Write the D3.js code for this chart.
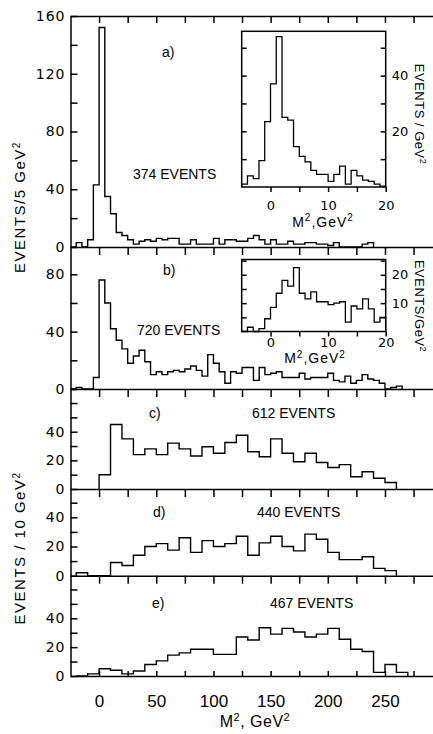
<!DOCTYPE html>
<html>
<head>
<meta charset="utf-8">
<script src="https://cdn.jsdelivr.net/npm/d3@7"></script>
<style>
  body { margin: 0; background: #fff; }
  svg text { fill: #000; }
</style>
</head>
<body>
<svg id="chart" width="433" height="734"></svg>
<script>
// events per 5 GeV^2, bins starting at -25
var binsA = [0, 3, 0, 5, 43, 152, 35, 23, 10, 8, 5, 2, 4, 5, 4, 6, 5, 6, 6, 2, 2, 5, 2, 2, 2,
             6, 2, 5, 5, 4, 4, 6, 8, 5, 2, 5, 2, 2, 4, 2, 2, 3, 3, 2, 2, 1, 3, 0, 0, 0, 0, 2, 3];
var binsB = [0, 1, 0, 0, 8, 76, 60, 42, 34, 28, 18, 23, 27, 19, 10, 12, 10, 12, 13, 12, 14, 16, 13, 9, 24,
             18, 12, 4, 12, 11, 15, 15, 6, 15, 10, 11, 12, 8, 8, 8, 11, 7, 8, 8, 8, 11, 6, 5, 9, 4,
             6, 10, 7, 6, 4, 0, 1, 2];
// events per 10 GeV^2
var binsC = [10, 45, 35, 24, 28, 24, 32, 28, 23, 29.5, 25, 32.5, 37.5, 26, 22.5, 35, 25, 19, 25, 18.5,
             15, 17, 8.5, 12, 7.5, 4.5];                 // from 0
var binsD = [2, 0, 0, 9, 7, 14, 20, 22, 17.5, 26, 16, 24, 20, 22, 27, 14, 22.5, 27, 20, 17, 28.5, 25,
             16, 11, 11, 13, 5, 3.5];                    // from -20
var binsE = [0, 1.5, 5, 4, 1.5, 3.5, 8, 10.5, 14.5, 16, 18.5, 18.5, 15, 15, 27, 25, 33.5, 29, 33, 30.5,
             27, 29, 33, 25.5, 18.5, 17, 2.5, 8, 2.5];   // from -20
// insets, events per 1 GeV^2 from -5
var insetBinsA = [1, 4, 3, 9.5, 23.5, 37, 54, 25, 24, 14.5, 11, 9, 6, 4.5, 4.5, 2, 4.5, 7.5, 1, 6, 4, 2.5, 2, 1, 0.3];
var insetBinsB = [0, 1.5, 0, 1, 4.5, 8.5, 13.5, 18, 16, 22.5, 13.5, 11.5, 14, 10.5, 10.5, 9.5, 10, 10.5, 3.3, 9, 8, 11.5, 8, 3.3, 5];

var panelNames = ["a)", "b)", "c)", "d)", "e)"];
var eventCounts = ["374 EVENTS", "720 EVENTS", "612 EVENTS", "440 EVENTS", "467 EVENTS"];
var xTicks = d3.range(0, 276, 25);
var xTickLabels = [0, 50, 100, 150, 200, 250];
var insetTicks = [0, 5, 10, 15, 20];
var insetTickLabels = [0, 10, 20];

var svg = d3.select("#chart");
var left = 70.5;

var x = d3.scaleLinear().domain([-25, 292]).range([left, 433]);

var panels = [
  {bins: binsA, start: -25, width: 5, zero: 247, top: 16, ref: 160, refPx: 16,
   ticks: d3.range(0, 161, 20), labels: [0, 40, 80, 120, 160], name: [162, 57], ev: [133, 179]},
  {bins: binsB, start: -25, width: 5, zero: 389, top: 247, ref: 80, refPx: 274.3,
   ticks: d3.range(0, 81, 20), labels: [0, 40, 80], name: [163, 275], ev: [137, 335]},
  {bins: binsC, start: 0, width: 10, zero: 489, top: 389, ref: 40, refPx: 431.7,
   ticks: d3.range(0, 61, 10), labels: [0, 20, 40], name: [149, 418], ev: [252, 418]},
  {bins: binsD, start: -20, width: 10, zero: 575.7, top: 489, ref: 40, refPx: 517.3,
   ticks: d3.range(0, 51, 10), labels: [0, 20, 40], name: [153, 517], ev: [257, 517]},
  {bins: binsE, start: -20, width: 10, zero: 676, top: 575.7, ref: 40, refPx: 618.3,
   ticks: d3.range(0, 61, 10), labels: [0, 20, 40], name: [152, 608], ev: [270, 608]}
];

function stepPath(xs, ys, start, width, values) {
  var pts = [[start, 0]];
  values.forEach(function(v, i) {
    pts.push([start + i * width, v]);
    pts.push([start + (i + 1) * width, v]);
  });
  pts.push([start + values.length * width, 0]);
  return d3.line().x(function(d) { return xs(d[0]); }).y(function(d) { return ys(d[1]); })(pts);
}

function styleAxis(g, size, family, spacing) {
  g.attr("font-size", size).attr("font-family", family);
  g.selectAll("path, line").attr("stroke", "#000").attr("stroke-width", 1.5);
  g.selectAll("text").attr("fill", "#000").attr("letter-spacing", spacing || 0);
}

// text with superscript pieces, parts: [text, isSup]
function richText(sel, parts, supSize) {
  parts.forEach(function(p, i) {
    var prevSup = i > 0 && parts[i - 1][1];
    var t = sel.append("tspan").text(p[0]);
    if (p[1]) t.attr("font-size", supSize).attr("dy", "-0.55em");
    else if (prevSup) t.attr("dy", "0.4em");
  });
}

panels.forEach(function(p, i) {
  var y = d3.scaleLinear().domain([0, p.ref]).range([p.zero, p.refPx]);
  y.domain([0, y.invert(p.top)]).range([p.zero, p.top]);

  svg.append("path")
      .attr("d", stepPath(x, y, p.start, p.width, p.bins))
      .attr("fill", "none")
      .attr("stroke", "#000")
      .attr("stroke-width", 1.4);

  var ya = svg.append("g")
      .attr("transform", "translate(" + left + ",0)")
      .call(d3.axisLeft(y).tickValues(p.ticks).tickSizeInner(-7).tickSizeOuter(0).tickPadding(5)
        .tickFormat(function(d) { return p.labels.indexOf(d) >= 0 ? d : ""; }));
  styleAxis(ya, 14, "DejaVu Sans", 1);

  var last = i === panels.length - 1;
  var xa = svg.append("g")
      .attr("transform", "translate(0," + p.zero + ")")
      .call(d3.axisBottom(x).tickValues(xTicks).tickSizeInner(last ? -5 : 8)
        .tickSizeOuter(0).tickPadding(19)
        .tickFormat(function(d) { return last && xTickLabels.indexOf(d) >= 0 ? d : ""; }));
  styleAxis(xa, 17, "Liberation Sans");

  svg.append("text")
      .attr("x", p.name[0]).attr("y", p.name[1])
      .attr("font-family", "Liberation Sans").attr("font-size", 14)
      .text(panelNames[i]);
  svg.append("text")
      .attr("x", p.ev[0]).attr("y", p.ev[1])
      .attr("font-family", "Liberation Sans").attr("font-size", 14)
      .text(eventCounts[i]);
});

// top frame of panel a
var topAxis = svg.append("g")
    .attr("transform", "translate(0,16)")
    .call(d3.axisTop(x).tickValues(xTicks).tickSizeInner(-7).tickSizeOuter(0).tickFormat(""));
styleAxis(topAxis, 12, "DejaVu Sans");

// insets
var xi = d3.scaleLinear().domain([-5, 20]).range([241.7, 385.7]);
var insets = [
  {bins: insetBinsA, bottom: 187, top: 31.3, ref: 40, refPx: 75.6, ticks: [10, 20, 30, 40, 50],
   labels: [20, 40], pad: 8.5, mLabel: [323, 226.7], yLabel: 114},
  {bins: insetBinsB, bottom: 331.5, top: 259.5, ref: 20, refPx: 274.8, ticks: [5, 10, 15, 20, 25],
   labels: [10, 20], pad: 1, mLabel: [315, 363], yLabel: 306}
];

insets.forEach(function(s, i) {
  var yi = d3.scaleLinear().domain([0, s.ref]).range([s.bottom, s.refPx]);
  yi.domain([0, yi.invert(s.top)]).range([s.bottom, s.top]);
  var ticks = s.ticks.filter(function(t) { return t < yi.domain()[1]; });

  svg.append("rect")
      .attr("x", xi(-5)).attr("y", s.top)
      .attr("width", xi(20) - xi(-5)).attr("height", s.bottom - s.top)
      .attr("fill", "#fff").attr("stroke", "#000").attr("stroke-width", 1.5);

  svg.append("path")
      .attr("d", stepPath(xi, yi, -5, 1, s.bins))
      .attr("fill", "none")
      .attr("stroke", "#000")
      .attr("stroke-width", 1.3);

  var ra = svg.append("g")
      .attr("transform", "translate(" + xi(20) + ",0)")
      .call(d3.axisRight(yi).tickValues(ticks).tickSizeInner(-5).tickSizeOuter(0).tickPadding(6)
        .tickFormat(function(d) { return s.labels.indexOf(d) >= 0 ? d : ""; }));
  styleAxis(ra, 13, "DejaVu Sans");
  ra.select(".domain").remove();

  var la = svg.append("g")
      .attr("transform", "translate(" + xi(-5) + ",0)")
      .call(d3.axisRight(yi).tickValues(ticks).tickSize(5).tickFormat(""));
  styleAxis(la, 13, "DejaVu Sans");
  la.select(".domain").remove();

  var ba = svg.append("g")
      .attr("transform", "translate(0," + s.bottom + ")")
      .call(d3.axisBottom(xi).tickValues(insetTicks).tickSizeInner(5).tickSizeOuter(0).tickPadding(s.pad)
        .tickFormat(function(d) { return insetTickLabels.indexOf(d) >= 0 ? d : ""; }));
  styleAxis(ba, 13, "DejaVu Sans");
  ba.select(".domain").remove();

  var ml = svg.append("text")
      .attr("x", s.mLabel[0]).attr("y", s.mLabel[1])
      .attr("text-anchor", "middle")
      .attr("font-family", "Liberation Sans").attr("font-size", 14)
      .attr("letter-spacing", 1);
  richText(ml, [["M", false], ["2", true], [",GeV", false], ["2", true]], 10);

  var yl = svg.append("text")
      .attr("transform", "translate(415," + s.yLabel + ") rotate(90)")
      .attr("text-anchor", "middle")
      .attr("font-family", "Liberation Sans").attr("font-size", 13)
      .attr("letter-spacing", 0.5);
  richText(yl, [[i === 0 ? "EVENTS / GeV" : "EVENTS/GeV", false], ["2", true]], 9);
});

// axis titles
var t1 = svg.append("text")
    .attr("transform", "translate(25,207) rotate(-90)")
    .attr("text-anchor", "middle")
    .attr("font-family", "Liberation Sans").attr("font-size", 15)
    .attr("letter-spacing", 1.5);
richText(t1, [["EVENTS/5 GeV", false], ["2", true]], 10);

var t2 = svg.append("text")
    .attr("transform", "translate(25,548) rotate(-90)")
    .attr("text-anchor", "middle")
    .attr("font-family", "Liberation Sans").attr("font-size", 15)
    .attr("letter-spacing", 1.5);
richText(t2, [["EVENTS / 10 GeV", false], ["2", true]], 10);

var t3 = svg.append("text")
    .attr("x", 255).attr("y", 727)
    .attr("text-anchor", "middle")
    .attr("font-family", "Liberation Sans").attr("font-size", 16)
    .attr("letter-spacing", 0.5);
richText(t3, [["M", false], ["2", true], [", GeV", false], ["2", true]], 11);
</script>
</body>
</html>
